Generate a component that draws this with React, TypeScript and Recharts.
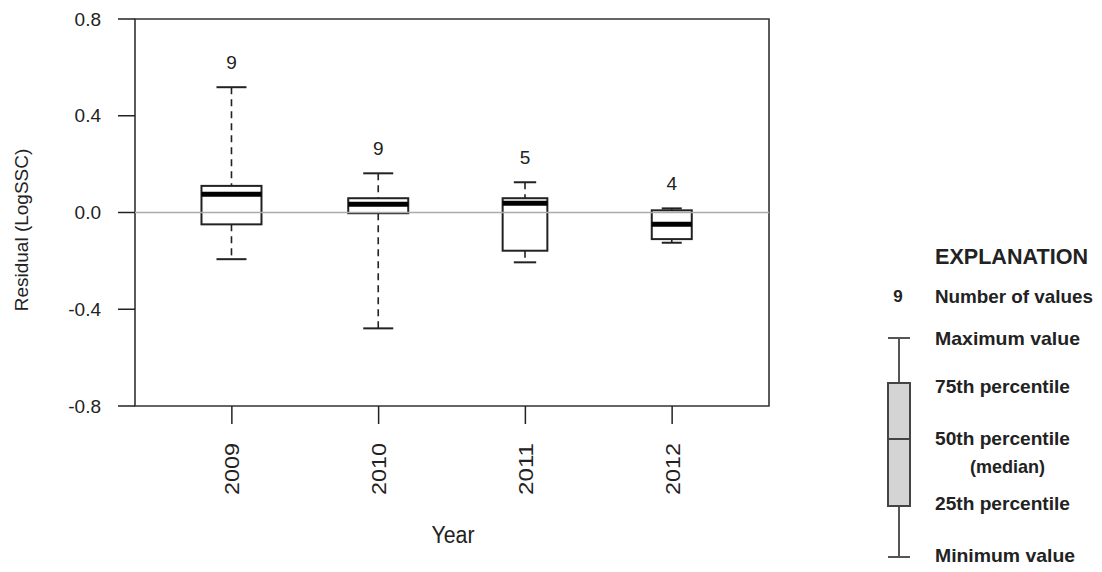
import React from "react";
import {
  ComposedChart,
  Bar,
  XAxis,
  YAxis,
  ReferenceLine,
  ReferenceArea,
} from "recharts";

const years = ["2009", "2010", "2011", "2012"];
const positions = [1, 2, 3, 4];
const minValues = [-0.193, -0.479, -0.206, -0.125];
const q1Values = [-0.049, -0.003, -0.158, -0.11];
const medianValues = [0.075, 0.034, 0.038, -0.049];
const q3Values = [0.11, 0.059, 0.059, 0.009];
const maxValues = [0.518, 0.162, 0.125, 0.017];
const counts = [9, 9, 5, 4];
const yTicks = [-0.8, -0.4, 0, 0.4, 0.8];

const legendTitle = "EXPLANATION";
const legendCount = "9";
const legendLabels = [
  "Number of values",
  "Maximum value",
  "75th percentile",
  "50th percentile",
  "(median)",
  "25th percentile",
  "Minimum value",
];

const rows = positions.map((pos, i) => ({
  pos,
  year: years[i],
  range: [minValues[i], maxValues[i]],
  min: minValues[i],
  q1: q1Values[i],
  med: medianValues[i],
  q3: q3Values[i],
  max: maxValues[i],
  n: counts[i],
}));

const maxN = Math.max(...counts);
const FONT = "'Liberation Sans', Arial, Helvetica, sans-serif";
const INK = "#222";

function BoxShape(props: any) {
  const { x, y, width, height, payload } = props;
  const top = Math.min(y, y + height);
  const h = Math.abs(height);
  const { min, q1, med, q3, max, n } = payload;
  const px = h / (max - min);
  const yOf = (v: number) => top + (max - v) * px;
  const cx = x + width / 2;
  // R varwidth: box width ~ sqrt(n)
  const bw = width * Math.sqrt(n / maxN);
  const cw = bw / 2;
  return (
    <g>
      <line x1={cx} x2={cx} y1={yOf(max)} y2={yOf(q3)} stroke={INK} strokeWidth={1.6} strokeDasharray="7 5" />
      <line x1={cx} x2={cx} y1={yOf(q1)} y2={yOf(min)} stroke={INK} strokeWidth={1.6} strokeDasharray="7 5" />
      <line x1={cx - cw / 2} x2={cx + cw / 2} y1={yOf(max)} y2={yOf(max)} stroke={INK} strokeWidth={2} />
      <line x1={cx - cw / 2} x2={cx + cw / 2} y1={yOf(min)} y2={yOf(min)} stroke={INK} strokeWidth={2} />
      <rect x={cx - bw / 2} y={yOf(q3)} width={bw} height={yOf(q1) - yOf(q3)} fill="none" stroke={INK} strokeWidth={2} />
      <line x1={cx - bw / 2} x2={cx + bw / 2} y1={yOf(med)} y2={yOf(med)} stroke="#000" strokeWidth={5} />
      <text x={cx} y={yOf(max) - 25} dy="0.36em" textAnchor="middle" fontFamily={FONT} fontSize={19} fill={INK}>
        {n}
      </text>
    </g>
  );
}

function YearTick(props: any) {
  const { x, y, payload } = props;
  return (
    <text
      x={x}
      y={y + 2}
      transform={`rotate(-90, ${x}, ${y + 2})`}
      dy="0.36em"
      textAnchor="end"
      fontFamily={FONT}
      fontSize={21}
      fill={INK}
      textLength={52}
      lengthAdjust="spacingAndGlyphs"
    >
      {years[positions.indexOf(payload.value)]}
    </text>
  );
}

function Explanation() {
  const bold = "'Liberation Sans Narrow', 'Arial Narrow', 'Liberation Sans', sans-serif";
  const textX = 935;
  const rowY = [296, 338, 386, 438, 466, 503, 555];
  const widths = [158, 145, 135, 135, 75, 135, 140];
  return (
    <svg width={1102} height={572} style={{ position: "absolute", left: 0, top: 0, pointerEvents: "none" }}>
      <text x={textX} y={256} dy="0.36em" fontFamily={bold} fontWeight="bold" fontSize={22} fill={INK}
        textLength={153} lengthAdjust="spacingAndGlyphs">
        {legendTitle}
      </text>
      <text x={898} y={296} dy="0.36em" textAnchor="middle" fontFamily={bold} fontWeight="bold" fontSize={17} fill={INK}>
        {legendCount}
      </text>
      {legendLabels.map((label, i) => (
        <text
          key={label}
          x={label === "(median)" ? 970 : textX}
          y={rowY[i]}
          dy="0.36em"
          fontFamily={bold}
          fontWeight="bold"
          fontSize={19}
          fill={INK}
          textLength={widths[i]}
          lengthAdjust="spacingAndGlyphs"
        >
          {label}
        </text>
      ))}
      <line x1={899} x2={899} y1={338} y2={383} stroke="#555" strokeWidth={2} />
      <line x1={899} x2={899} y1={506} y2={557} stroke="#555" strokeWidth={2} />
      <line x1={888} x2={910} y1={338} y2={338} stroke="#555" strokeWidth={2} />
      <line x1={888} x2={910} y1={557} y2={557} stroke="#555" strokeWidth={2} />
      <rect x={888} y={383} width={22} height={123} fill="#d4d4d4" stroke="#444" strokeWidth={2} />
      <line x1={888} x2={910} y1={439} y2={439} stroke="#444" strokeWidth={2} />
    </svg>
  );
}

export default function App() {
  return (
    <div style={{ position: "absolute", left: 0, top: 0, width: 1102, height: 572, background: "#fff" }}>
      <ComposedChart
        width={1102}
        height={572}
        data={rows}
        margin={{ top: 19, right: 333, bottom: 0, left: 0 }}
      >
        <XAxis
          dataKey="pos"
          type="number"
          domain={[0.34, 4.66]}
          ticks={positions}
          height={166}
          axisLine={false}
          tickSize={18}
          tickMargin={17}
          tickLine={{ stroke: INK, strokeWidth: 1.5 }}
          tick={<YearTick />}
          interval={0}
          label={{
            content: () => (
              <text x={453} y={535} dy="0.36em" textAnchor="middle" fontFamily={FONT} fontSize={23} fill={INK}
                textLength={43} lengthAdjust="spacingAndGlyphs">
                Year
              </text>
            ),
          }}
        />
        <YAxis
          type="number"
          domain={[-0.8, 0.8]}
          ticks={yTicks}
          width={135}
          axisLine={false}
          tickSize={17}
          tickMargin={17}
          tickLine={{ stroke: INK, strokeWidth: 1.5 }}
          tickFormatter={(v: number) => v.toFixed(1)}
          tick={{ fontFamily: FONT, fontSize: 19, fill: INK }}
          label={{
            content: () => (
              <text
                x={21}
                y={230}
                transform="rotate(-90, 21, 230)"
                dy="0.36em"
                textAnchor="middle"
                fontFamily={FONT}
                fontSize={19}
                fill={INK}
              >
                Residual (LogSSC)
              </text>
            ),
          }}
        />
        <ReferenceArea
          x1={0.34}
          x2={4.66}
          y1={-0.8}
          y2={0.8}
          fill="none"
          stroke="#333"
          strokeWidth={1.6}
          ifOverflow="visible"
        />
        <Bar dataKey="range" barSize={60} shape={<BoxShape />} isAnimationActive={false} />
        <ReferenceLine y={0} stroke="#aaa" strokeWidth={1.5} />
      </ComposedChart>
      <Explanation />
    </div>
  );
}
